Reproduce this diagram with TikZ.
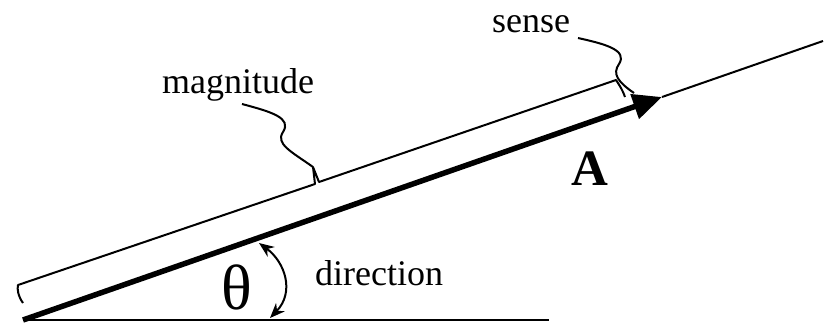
\documentclass[tikz,border=0pt]{standalone}
\usepackage{fontspec}
\setmainfont{Liberation Serif}
\usetikzlibrary{arrows.meta}
\begin{document}
\begin{tikzpicture}[x=1bp,y=-1bp,
  thinline/.style={line width=2bp},
  vecline/.style={line width=5.5bp},
  lbl/.style={inner sep=0pt, anchor=base west, font=\fontsize{36bp}{40bp}\selectfont},
  anglearrow/.style={line width=2bp, {Stealth[length=15bp,width=12bp]}-{Stealth[length=15bp,width=12bp]}}
]
\useasboundingbox (0,0) rectangle (831,322);
% key points
\coordinate (O) at (23,320);
\coordinate (T) at (662,97);
\coordinate (E) at (823,41);
\coordinate (B) at (549,320);
% baseline
\draw[thinline] (O) -- (B);
% continuation line
\draw[thinline] (T) -- (E);
% vector A
\draw[vecline, -{Triangle[length=29bp,width=25bp]}] (O) -- (T);
% magnitude bracket
\coordinate (bl0) at (23,303);
\coordinate (bl) at (18,285);
\coordinate (bm1) at (315,184);
\coordinate (bmt) at (313,167);
\coordinate (bm2) at (319,182);
\coordinate (br) at (616,80);
\coordinate (br0) at (625,97);
\draw[thinline, line join=round] (bl0) .. controls (18,296) and (17,289) .. (bl) -- (bm1) -- (bmt) -- (bm2) -- (br) .. controls (620,86) and (623,91) .. (br0);
% labels
\node[lbl] (mag) at (162,93) {magnitude};
\node[lbl] (sense) at (492,32) {sense};
\node[lbl] (dir) at (315,285) {direction};
\node[inner sep=0pt, anchor=base, font=\fontsize{51bp}{55bp}\selectfont\bfseries] (A) at (589.5,185) {A};
\node[inner sep=0pt, anchor=base, font=\fontsize{64bp}{68bp}\selectfont] (theta) at (236.5,309) {θ};
% leaders
\coordinate (m0) at (242,104);
\draw[thinline] (m0) .. controls (272,112) and (292,118) .. (283,132)
  .. controls (275,144) and (292,152) .. (bmt);
\coordinate (s0) at (578,38);
\coordinate (s1) at (634,93);
\draw[thinline] (s0) .. controls (605,44) and (628,50) .. (619,64)
  .. controls (612,74) and (618,82) .. (s1);
% angle arrow
\coordinate (a1) at (259,243);
\coordinate (a2) at (270,318);
\draw[anglearrow] (a1) .. controls (285,262) and (295,292) .. (a2);
\end{tikzpicture}
\end{document}
